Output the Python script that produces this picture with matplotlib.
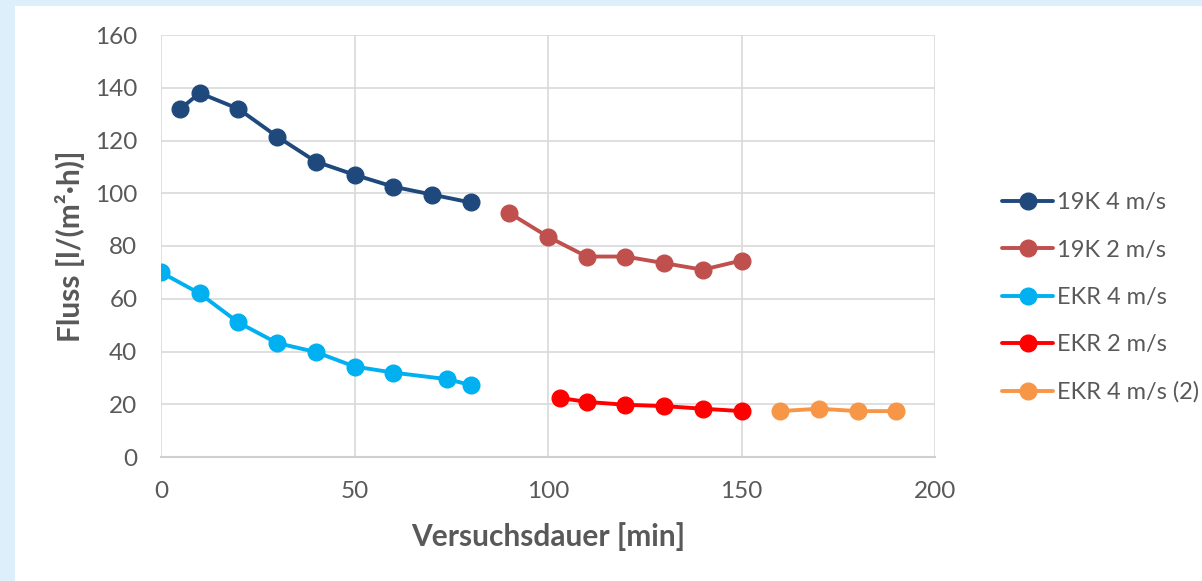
import matplotlib.pyplot as plt
from matplotlib.patches import Rectangle

plt.rcParams['font.family'] = ['Lato', 'DejaVu Sans']

# data
x_19k4 = [5, 10, 20, 30, 40, 50, 60, 70, 80]
y_19k4 = [132, 138, 132, 121.5, 112, 107, 102.5, 99.5, 96.5]

x_19k2 = [90, 100, 110, 120, 130, 140, 150]
y_19k2 = [92.5, 83.5, 76, 76, 73.5, 71, 74.5]

x_ekr4 = [0, 10, 20, 30, 40, 50, 60, 74, 80]
y_ekr4 = [70, 62, 51, 43.2, 39.8, 34.3, 32, 29.5, 27.3]

x_ekr2 = [103, 110, 120, 130, 140, 150]
y_ekr2 = [22.4, 20.9, 19.8, 19.3, 18.3, 17.4]

x_ekr4b = [160, 170, 180, 190]
y_ekr4b = [17.4, 18.3, 17.4, 17.4]

series = [
    ('19K 4 m/s', x_19k4, y_19k4, '#1F497D'),
    ('19K 2 m/s', x_19k2, y_19k2, '#C0504D'),
    ('EKR 4 m/s', x_ekr4, y_ekr4, '#00B0F0'),
    ('EKR 2 m/s', x_ekr2, y_ekr2, '#FF0000'),
    ('EKR 4 m/s (2)', x_ekr4b, y_ekr4b, '#F79646'),
]

fig = plt.figure(figsize=(12.02, 5.81), dpi=100, facecolor='#DDEFFA')
fig.patches.append(Rectangle((15 / 1202, 0), 1, 1 - 6 / 581, transform=fig.transFigure,
                             facecolor='white', edgecolor='none', zorder=-5))

ax = fig.add_axes([161 / 1202, 1 - 457 / 581, (935 - 161) / 1202, (457 - 35) / 581])
ax.set_facecolor('white')

for label, xs, ys, color in series:
    ax.plot(xs, ys, color=color, lw=2.8, marker='o', markersize=12, label=label,
            solid_capstyle='round')

ax.set_xlim(0, 200)
ax.set_ylim(0, 160)
ax.set_xticks(range(0, 201, 50))
ax.set_yticks(range(0, 161, 20))
ax.grid(True, color='#D9D9D9', lw=1.2)
ax.set_axisbelow(True)
for s in ['top', 'right', 'left']:
    ax.spines[s].set_visible(False)
ax.spines['bottom'].set_color('#D0D0D0')
ax.spines['bottom'].set_linewidth(1.5)
ax.tick_params(length=0, labelsize=17.5, colors='#595959')
ax.tick_params(axis='y', pad=17)
ax.tick_params(axis='x', pad=17)

ax.set_xlabel('Versuchsdauer [min]', fontsize=21.5, fontweight='bold', color='#595959', labelpad=15)
ax.set_ylabel('Fluss [l/(m²·h)]', fontsize=21.5, fontweight='bold', color='#595959', labelpad=7)

fig.legend(loc='upper left', bbox_to_anchor=(993 / 1202, 1 - 183 / 581), frameon=False,
           fontsize=17, labelcolor='#595959', handlelength=2.15, handletextpad=0.15,
           labelspacing=1.11, borderaxespad=0, markerscale=1.0)

fig.savefig('out.png', dpi=100, facecolor=fig.get_facecolor())
